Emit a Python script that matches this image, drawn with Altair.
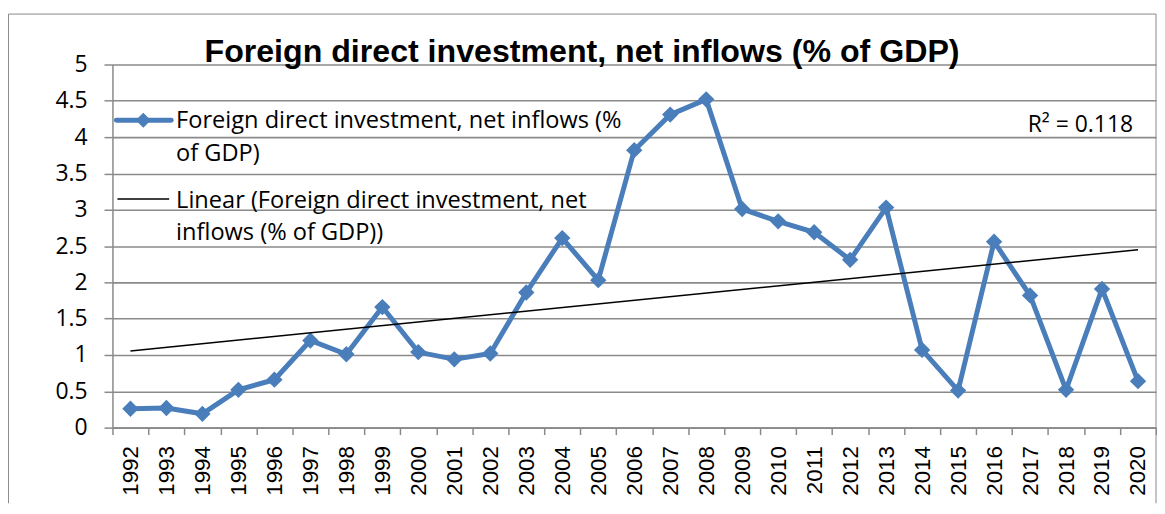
import altair as alt
import pandas as pd

# ---- data ----
years = list(range(1992, 2021))
fdi_values = [0.26, 0.27, 0.19, 0.52, 0.66, 1.20, 1.01, 1.66, 1.04, 0.94,
              1.02, 1.86, 2.61, 2.03, 3.82, 4.31, 4.52, 3.01, 2.84, 2.69,
              2.31, 3.03, 1.07, 0.51, 2.56, 1.82, 0.52, 1.91, 0.64]
y_ticks = [0, 0.5, 1, 1.5, 2, 2.5, 3, 3.5, 4, 4.5, 5]
title_text = "Foreign direct investment, net inflows (% of GDP)"
series_label_lines = ["Foreign direct investment, net inflows (%", "of GDP)"]
trend_label_lines = ["Linear (Foreign direct investment, net", "inflows (% of GDP))"]
r2_text = "R\u00b2 = 0.118"

# ---- style ----
W, H = 1049, 365
BLUE = "#4A7EBB"
GRID = "#8a8a8a"
CAL = "Open Sans"
ARIAL = "Liberation Sans"

df = pd.DataFrame({"year": years, "value": fdi_values})
one = pd.DataFrame({"k": [0]})

x_enc = alt.X(
    "year:O",
    scale=alt.Scale(type="band", paddingInner=0, paddingOuter=0),
    axis=alt.Axis(
        title=None, labelAngle=270, tickBand="extent", labelFont=ARIAL,
        labelFontSize=22.5, labelColor="black", labelPadding=11, tickSize=7,
        tickColor=GRID, tickWidth=1.5, domainColor=GRID, domainWidth=1.5,
        grid=False, labelOverlap=False,
    ),
)
y_enc = alt.Y(
    "value:Q",
    scale=alt.Scale(domain=[0, 5], nice=False, zero=True),
    axis=alt.Axis(
        title=None, values=y_ticks, tickCount=len(y_ticks) + 1, format="~g",
        labelFont=CAL, labelFontSize=23, labelColor="black", labelPadding=17,
        tickSize=8.5, tickColor=GRID, tickWidth=1.5, domainColor=GRID,
        domainWidth=1.5, grid=True, gridColor=GRID, gridWidth=1.6,
        labelOverlap=False,
    ),
)

fdi_line = alt.Chart(df).mark_line(color=BLUE, strokeWidth=5).encode(x=x_enc, y=y_enc)
fdi_pts = alt.Chart(df).mark_point(
    shape="diamond", filled=True, size=270, color=BLUE, opacity=1
).encode(x=x_enc, y=y_enc)
trend = alt.Chart(df).transform_regression("year", "value").mark_line(
    color="black", strokeWidth=1.5
).encode(x=x_enc, y=y_enc)

# ---- chart frame (outer border, bottom edge is outside the picture) ----
frame_left = alt.Chart(one).mark_rule(color=GRID, strokeWidth=1).encode(
    x=alt.value(-104.5), y=alt.value(-50.7), y2=alt.value(441))
frame_top = alt.Chart(one).mark_rule(color=GRID, strokeWidth=1).encode(
    x=alt.value(-104.5), x2=alt.value(W), y=alt.value(-50.7))
frame_right = alt.Chart(one).mark_rule(color=GRID, strokeWidth=1).encode(
    x=alt.value(W), y=alt.value(-50.7), y2=alt.value(441))

# ---- title ----
title = alt.Chart(one).mark_text(
    font=ARIAL, fontSize=32.3, fontWeight="bold", align="center",
    baseline="alphabetic", color="black"
).encode(x=alt.value(472), y=alt.value(-2.7), text=alt.value(title_text))

# ---- legend (inside plot, upper left) ----
leg1_line = alt.Chart(one).mark_rule(color=BLUE, strokeWidth=5, strokeCap="round").encode(
    x=alt.value(4), x2=alt.value(59), y=alt.value(56))
leg1_pt = alt.Chart(one).mark_point(shape="diamond", filled=True, size=230, color=BLUE, opacity=1).encode(
    x=alt.value(31), y=alt.value(56))
leg1_txt = alt.Chart(one).mark_text(
    font=CAL, fontSize=23.7, align="left", baseline="alphabetic", color="black",
    lineBreak="\n", lineHeight=33
).encode(x=alt.value(64), y=alt.value(63.8), text=alt.value("\n".join(series_label_lines)))
leg2_line = alt.Chart(one).mark_rule(color="black", strokeWidth=1.5).encode(
    x=alt.value(5), x2=alt.value(57), y=alt.value(135.3))
leg2_txt = alt.Chart(one).mark_text(
    font=CAL, fontSize=23.7, align="left", baseline="alphabetic", color="black",
    lineBreak="\n", lineHeight=32
).encode(x=alt.value(64), y=alt.value(144.5), text=alt.value("\n".join(trend_label_lines)))

r2 = alt.Chart(one).mark_text(
    font=CAL, fontSize=23, align="right", baseline="alphabetic", color="black"
).encode(x=alt.value(1026), y=alt.value(67.8), text=alt.value(r2_text))

chart = alt.layer(
    frame_left, frame_top, frame_right,
    fdi_line, fdi_pts, trend,
    title, leg1_line, leg1_pt, leg1_txt, leg2_line, leg2_txt, r2,
).properties(
    width=W, height=H,
    padding={"left": 0, "top": 3.5, "right": 0, "bottom": 0},
).configure(background="white").configure_view(stroke="transparent")

chart.save("out.html", embed_options={"renderer": "svg", "actions": False})
